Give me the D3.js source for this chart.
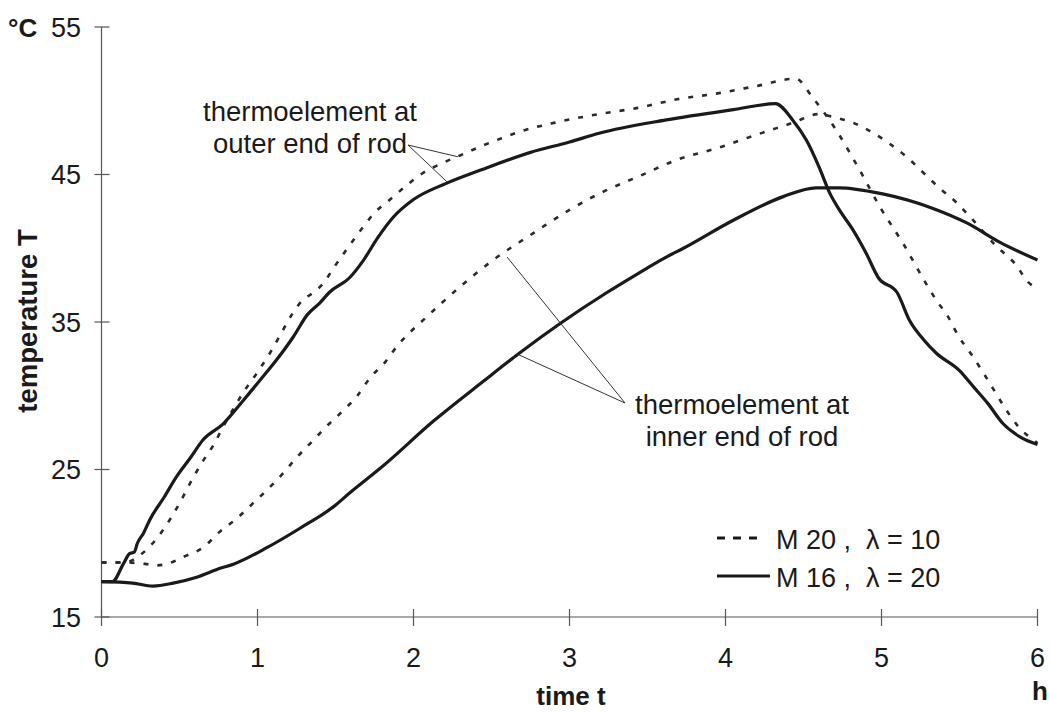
<!DOCTYPE html>
<html lang="en">
<head>
<meta charset="UTF-8">
<title>temperature of rods</title>
<script src="https://cdn.jsdelivr.net/npm/d3@7"></script>
<style>
  body { margin: 0; background: #fff; }
  text { font-family: "Liberation Sans", Arial, sans-serif; fill: #1a1a1a; }
</style>
</head>
<body>
<script>
// measured curves, time in h, temperature in °C
var tOuterM20 = [0, 0.15, 0.26, 0.36, 0.45, 0.51, 0.58, 0.64, 0.72, 0.78, 0.85, 0.92, 1.0, 1.08, 1.15, 1.22, 1.29, 1.36, 1.42, 1.49, 1.57, 1.66, 1.75, 1.85, 1.96, 2.06, 2.19, 2.3, 2.43, 2.55, 2.68, 2.9, 3.19, 3.43, 3.69, 3.95, 4.2, 4.45, 4.56, 4.71, 4.86, 4.99, 5.14, 5.28, 5.35, 5.43, 5.49, 5.57, 5.65, 5.72, 5.79, 5.87, 6.0];
var vOuterM20 = [18.7, 18.7, 19.3, 20.4, 21.8, 22.9, 24.3, 25.4, 26.7, 27.9, 29.2, 30.4, 31.6, 32.9, 34.2, 35.5, 36.5, 37.0, 37.6, 38.7, 39.9, 41.2, 42.4, 43.3, 44.3, 45.1, 45.8, 46.3, 46.9, 47.4, 47.9, 48.5, 49.1, 49.5, 50.1, 50.5, 51.0, 51.5, 50.2, 48.0, 45.3, 42.8, 40.3, 37.7, 36.5, 35.3, 34.1, 32.9, 31.6, 30.4, 29.2, 28.0, 26.8];

var tInnerM20 = [0, 0.15, 0.28, 0.35, 0.42, 0.53, 0.65, 0.76, 0.87, 0.97, 1.06, 1.16, 1.25, 1.35, 1.44, 1.54, 1.64, 1.72, 1.82, 1.89, 2.08, 2.3, 2.51, 2.75, 2.85, 3.0, 3.19, 3.45, 3.69, 3.95, 4.2, 4.43, 4.6, 4.69, 4.82, 4.95, 5.05, 5.16, 5.27, 5.37, 5.48, 5.57, 5.74, 5.86, 5.94, 6.0];
var vInnerM20 = [18.7, 18.7, 18.6, 18.5, 18.6, 19.1, 19.7, 20.8, 21.7, 22.7, 23.6, 24.7, 25.8, 26.9, 27.9, 28.9, 30.0, 31.2, 32.3, 33.3, 35.3, 37.4, 39.2, 40.9, 41.6, 42.6, 43.7, 44.9, 46.0, 46.8, 47.7, 48.5, 49.1, 48.9, 48.5, 47.8, 47.1, 46.2, 45.1, 44.1, 43.1, 42.1, 40.1, 38.9, 37.7, 37.3];

var tOuterM16 = [0, 0.07, 0.14, 0.18, 0.21, 0.23, 0.27, 0.31, 0.4, 0.48, 0.57, 0.65, 0.78, 0.91, 1.02, 1.12, 1.23, 1.32, 1.4, 1.46, 1.59, 1.68, 1.77, 1.87, 2.0, 2.21, 2.43, 2.75, 3.0, 3.19, 3.62, 4.05, 4.32, 4.43, 4.52, 4.6, 4.67, 4.73, 4.82, 4.9, 4.98, 5.1, 5.18, 5.27, 5.35, 5.5, 5.59, 5.68, 5.78, 5.89, 6.0];
var vOuterM16 = [17.4, 17.4, 18.6, 19.3, 19.4, 20.0, 20.7, 21.6, 23.1, 24.5, 25.8, 27.0, 28.1, 29.7, 31.1, 32.4, 34.0, 35.5, 36.3, 37.0, 38.0, 39.2, 40.7, 42.1, 43.3, 44.4, 45.3, 46.5, 47.2, 47.8, 48.7, 49.4, 49.8, 48.7, 47.3, 45.5, 43.7, 42.6, 41.2, 39.7, 38.0, 37.0, 35.1, 33.8, 32.9, 31.7, 30.6, 29.5, 28.1, 27.2, 26.7];

var tInnerM16 = [0, 0.2, 0.33, 0.46, 0.61, 0.76, 0.85, 1.06, 1.27, 1.49, 1.59, 1.8, 2.13, 2.45, 2.68, 2.94, 3.24, 3.41, 3.62, 3.73, 4.05, 4.37, 4.58, 4.73, 5.0, 5.33, 5.55, 5.76, 6.0];
var vInnerM16 = [17.4, 17.3, 17.1, 17.3, 17.7, 18.3, 18.6, 19.7, 21.0, 22.5, 23.4, 25.2, 28.3, 31.0, 32.9, 34.9, 37.0, 38.1, 39.4, 40.0, 41.9, 43.5, 44.1, 44.1, 43.7, 42.7, 41.7, 40.4, 39.2];

var xTicks = [0, 1, 2, 3, 4, 5, 6];
var yTicks = [15, 25, 35, 45, 55];
var legendLabels = ["M 20 ,  \u03bb = 10", "M 16 ,  \u03bb = 20"];

// points the label lines point at [t, T]
var outerPointers = [[2.285, 46.2], [2.215, 44.5]];
var innerPointers = [[2.6, 39.4], [2.67, 32.8]];

var width = 1050, height = 713;
var svg = d3.select("body").append("svg")
    .attr("width", width)
    .attr("height", height);

var x = d3.scaleLinear().domain([0, 6]).range([101.5, 1037.5]);
var y = d3.scaleLinear().domain([15, 55]).range([617, 27]);

var axisColor = "#555";

// y axis
svg.append("line")
    .attr("x1", x(0)).attr("x2", x(0))
    .attr("y1", y(55)).attr("y2", y(15))
    .attr("stroke", axisColor).attr("stroke-width", 1.2);
svg.selectAll(".ytick").data(yTicks).enter().append("line")
    .attr("x1", x(0) - 7).attr("x2", x(0) + 8)
    .attr("y1", function (d) { return y(d); })
    .attr("y2", function (d) { return y(d); })
    .attr("stroke", axisColor).attr("stroke-width", 1.2);
svg.selectAll(".ylab").data(yTicks).enter().append("text")
    .attr("x", 81)
    .attr("y", function (d) { return y(d) + 9.5; })
    .attr("text-anchor", "end")
    .attr("font-size", 27)
    .text(function (d) { return d; });

// x axis
svg.append("line")
    .attr("x1", x(0)).attr("x2", x(6))
    .attr("y1", y(15)).attr("y2", y(15))
    .attr("stroke", axisColor).attr("stroke-width", 1.2);
svg.selectAll(".xtick").data(xTicks).enter().append("line")
    .attr("x1", function (d) { return x(d); })
    .attr("x2", function (d) { return x(d); })
    .attr("y1", y(15) - 8).attr("y2", y(15) + 9)
    .attr("stroke", axisColor).attr("stroke-width", 1.2);
svg.selectAll(".xlab").data(xTicks).enter().append("text")
    .attr("x", function (d) { return x(d); })
    .attr("y", 667)
    .attr("text-anchor", "middle")
    .attr("font-size", 27)
    .text(function (d) { return d; });

// axis titles
svg.append("text").attr("x", 8).attr("y", 37)
    .attr("font-size", 26).attr("font-weight", "bold").text("°C");
svg.append("text").attr("x", 1040).attr("y", 700)
    .attr("text-anchor", "middle")
    .attr("font-size", 26).attr("font-weight", "bold").text("h");
svg.append("text").attr("x", 571).attr("y", 705)
    .attr("text-anchor", "middle")
    .attr("font-size", 26).attr("font-weight", "bold").text("time t");
svg.append("text")
    .attr("transform", "translate(37,321) rotate(-90)")
    .attr("text-anchor", "middle")
    .attr("font-size", 27.5).attr("font-weight", "bold").text("temperature T");

// curves
var line = d3.line()
    .x(function (d) { return x(d[0]); })
    .y(function (d) { return y(d[1]); })
    .curve(d3.curveMonotoneX);

function pairs(ts, vs) {
    return ts.map(function (t, i) { return [t, vs[i]]; });
}

var dashStyle = { color: "#2a2a2a", width: 2.6, dash: "5,9" };
var solidStyle = { color: "#1a1a1a", width: 3.2, dash: null };

[[tOuterM20, vOuterM20, dashStyle], [tInnerM20, vInnerM20, dashStyle],
 [tOuterM16, vOuterM16, solidStyle], [tInnerM16, vInnerM16, solidStyle]].forEach(function (s) {
    svg.append("path")
        .datum(pairs(s[0], s[1]))
        .attr("d", line)
        .attr("fill", "none")
        .attr("stroke", s[2].color)
        .attr("stroke-width", s[2].width)
        .attr("stroke-dasharray", s[2].dash)
        .attr("stroke-linejoin", "round");
});

// annotations
function label(lines, tx, ty, lineX, lineY, pointers) {
    var t = svg.append("text").attr("font-size", 27.5).attr("text-anchor", "middle");
    lines.forEach(function (s, i) {
        t.append("tspan").attr("x", tx).attr("y", ty + i * 32).text(s);
    });
    pointers.forEach(function (p) {
        svg.append("line")
            .attr("x1", lineX).attr("y1", lineY)
            .attr("x2", x(p[0])).attr("y2", y(p[1]))
            .attr("stroke", "#333").attr("stroke-width", 1);
    });
}
label(["thermoelement at", "outer end of rod"], 310, 121, 408, 145, outerPointers);
label(["thermoelement at", "inner end of rod"], 742, 414, 625, 403, innerPointers);

// legend
var legend = svg.selectAll(".legend").data(legendLabels).enter().append("g")
    .attr("transform", function (d, i) { return "translate(717," + (538 + i * 38) + ")"; });
legend.append("line")
    .attr("x1", 0).attr("x2", function (d, i) { return i === 0 ? 48 : 53; })
    .attr("y1", 0).attr("y2", 0)
    .attr("stroke", "#1a1a1a")
    .attr("stroke-width", 3)
    .attr("stroke-dasharray", function (d, i) { return i === 0 ? "8,8" : null; });
legend.append("text")
    .attr("x", 59).attr("y", 11)
    .attr("font-size", 27)
    .style("white-space", "pre")
    .text(function (d) { return d; });
</script>
</body>
</html>
